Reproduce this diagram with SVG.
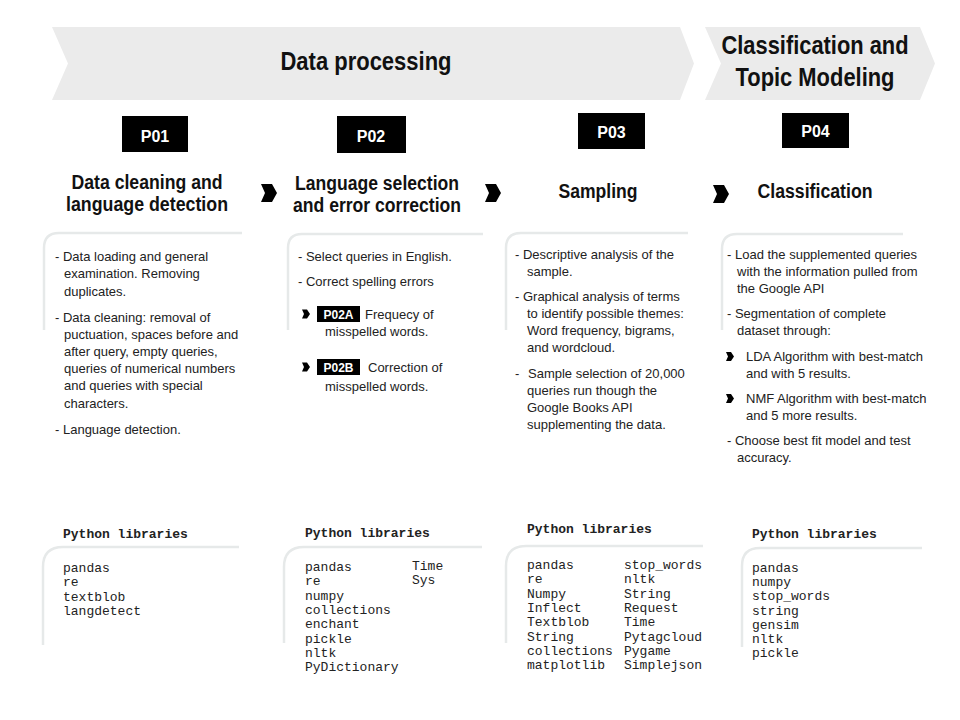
<svg xmlns="http://www.w3.org/2000/svg" width="960" height="720" viewBox="0 0 960 720">
<style>
.ban{fill:#ebebeb}
.bt{font-family:"Liberation Sans",Arial,sans-serif;font-weight:bold;font-size:26px;fill:#111;text-anchor:middle}
.pbox{fill:#000}
.pt{font-family:"Liberation Sans",Arial,sans-serif;font-weight:bold;font-size:16px;fill:#fff;text-anchor:middle}
.ht{font-family:"Liberation Sans",Arial,sans-serif;font-weight:bold;font-size:20px;fill:#111;text-anchor:middle}
.tx{font-family:"Liberation Sans",Arial,sans-serif;font-size:13px;fill:#222}
.br{fill:none;stroke:#e6e9e9;stroke-width:2.5}
.lh{font-family:"Liberation Mono","Courier New",monospace;font-weight:bold;font-size:13px;fill:#222}
.lt{font-family:"Liberation Mono","Courier New",monospace;font-size:13px;fill:#222}
.sb{fill:#000}
.st{font-family:"Liberation Sans",Arial,sans-serif;font-weight:bold;font-size:12px;fill:#fff;text-anchor:middle}
</style>
<defs>
<path id="chev" d="M0,0 L11,0 L16,9 L11,18 L0,18 L4,9 Z" fill="#000"/>
<path id="chevs" d="M0,0 L5,0 L8,4.5 L5,9 L0,9 L2,4.5 Z" fill="#000"/>
</defs>

<g id="banner-data-processing">
<polygon class="ban" points="52,27 680,27 694,63.5 680,100 52,100 68,63.5"/>
<text class="bt" x="366" y="70" textLength="171" lengthAdjust="spacingAndGlyphs">Data processing</text>
</g>
<g id="banner-classification">
<polygon class="ban" points="705,27 920,27 935,63.5 920,100 705,100 721,63.5"/>
<text class="bt" x="815" y="54" textLength="187" lengthAdjust="spacingAndGlyphs">Classification and</text>
<text class="bt" x="815" y="86" textLength="159" lengthAdjust="spacingAndGlyphs">Topic Modeling</text>
</g>

<g id="connectors">
<use href="#chev" x="261" y="184"/>
<use href="#chev" x="485" y="184"/>
<use href="#chev" x="713" y="185"/>
</g>

<g id="P01">
<rect class="pbox" x="122" y="116" width="66" height="36"/>
<text class="pt" x="155" y="142">P01</text>
<text class="ht" x="147" y="189" textLength="151" lengthAdjust="spacingAndGlyphs">Data cleaning and</text>
<text class="ht" x="147" y="211" textLength="162" lengthAdjust="spacingAndGlyphs">language detection</text>
<path class="br" d="M44,330 L44,248 Q44,233 59,233 L242,233"/>
<text class="tx" x="55" y="261">- Data loading and general</text>
<text class="tx" x="64" y="278">examination. Removing</text>
<text class="tx" x="64" y="296">duplicates.</text>
<text class="tx" x="55" y="322">- Data cleaning: removal of</text>
<text class="tx" x="64" y="339">puctuation, spaces before and</text>
<text class="tx" x="64" y="356">after query, empty queries,</text>
<text class="tx" x="64" y="373">queries of numerical numbers</text>
<text class="tx" x="64" y="390">and queries with special</text>
<text class="tx" x="64" y="408">characters.</text>
<text class="tx" x="55" y="434">- Language detection.</text>
<path class="br" d="M43,645 L43,567 Q43,547 63,547 L239,547"/>
<text class="lh" x="63" y="538">Python libraries</text>
<text class="lt" x="63" y="572">pandas</text>
<text class="lt" x="63" y="586.3">re</text>
<text class="lt" x="63" y="600.6">textblob</text>
<text class="lt" x="63" y="615">langdetect</text>
</g>

<g id="P02">
<rect class="pbox" x="337" y="116" width="69" height="37"/>
<text class="pt" x="371" y="142">P02</text>
<text class="ht" x="377" y="190" textLength="164" lengthAdjust="spacingAndGlyphs">Language selection</text>
<text class="ht" x="377" y="212" textLength="168" lengthAdjust="spacingAndGlyphs">and error correction</text>
<path class="br" d="M288,330 L288,248 Q288,234 302,234 L483,234"/>
<text class="tx" x="298" y="261">- Select queries in English.</text>
<text class="tx" x="298" y="286">- Correct spelling errors</text>
<use href="#chevs" x="302" y="309.5"/>
<rect class="sb" x="317" y="306" width="43" height="16"/>
<text class="st" x="338.5" y="318.5">P02A</text>
<text class="tx" x="365" y="319">Frequecy of</text>
<text class="tx" x="325" y="336">misspelled words.</text>
<use href="#chevs" x="302" y="362.5"/>
<rect class="sb" x="317" y="359" width="43" height="16"/>
<text class="st" x="338.5" y="371.5">P02B</text>
<text class="tx" x="368" y="372">Correction of</text>
<text class="tx" x="325" y="391">misspelled words.</text>
<path class="br" d="M284,643 L284,567 Q284,547 304,547 L482,547"/>
<text class="lh" x="305" y="537">Python libraries</text>
<text class="lt" x="305" y="571">pandas</text>
<text class="lt" x="305" y="585.3">re</text>
<text class="lt" x="305" y="599.6">numpy</text>
<text class="lt" x="305" y="613.9">collections</text>
<text class="lt" x="305" y="628.2">enchant</text>
<text class="lt" x="305" y="642.5">pickle</text>
<text class="lt" x="305" y="656.8">nltk</text>
<text class="lt" x="305" y="671.1">PyDictionary</text>
<text class="lt" x="412" y="569.5">Time</text>
<text class="lt" x="412" y="583.8">Sys</text>
</g>

<g id="P03">
<rect class="pbox" x="578" y="113" width="67" height="36"/>
<text class="pt" x="611.5" y="138">P03</text>
<text class="ht" x="598" y="198" textLength="79" lengthAdjust="spacingAndGlyphs">Sampling</text>
<path class="br" d="M506,330 L506,248 Q506,233 521,233 L688,233"/>
<text class="tx" x="515" y="259">- Descriptive analysis of the</text>
<text class="tx" x="527" y="276">sample.</text>
<text class="tx" x="515" y="301">- Graphical analysis of terms</text>
<text class="tx" x="527" y="318">to identify possible themes:</text>
<text class="tx" x="527" y="335">Word frequency, bigrams,</text>
<text class="tx" x="527" y="352">and wordcloud.</text>
<text class="tx" x="515" y="378">-</text>
<text class="tx" x="528" y="378">Sample selection of 20,000</text>
<text class="tx" x="527" y="395">queries run though the</text>
<text class="tx" x="527" y="412">Google Books API</text>
<text class="tx" x="527" y="429">supplementing the data.</text>
<path class="br" d="M506,643 L506,566 Q506,546 526,546 L703,546"/>
<text class="lh" x="527" y="533">Python libraries</text>
<text class="lt" x="527" y="569">pandas</text>
<text class="lt" x="527" y="583.3">re</text>
<text class="lt" x="527" y="597.6">Numpy</text>
<text class="lt" x="527" y="611.9">Inflect</text>
<text class="lt" x="527" y="626.2">Textblob</text>
<text class="lt" x="527" y="640.5">String</text>
<text class="lt" x="527" y="654.8">collections</text>
<text class="lt" x="527" y="669.1">matplotlib</text>
<text class="lt" x="624" y="569">stop_words</text>
<text class="lt" x="624" y="583.3">nltk</text>
<text class="lt" x="624" y="597.6">String</text>
<text class="lt" x="624" y="611.9">Request</text>
<text class="lt" x="624" y="626.2">Time</text>
<text class="lt" x="624" y="640.5">Pytagcloud</text>
<text class="lt" x="624" y="654.8">Pygame</text>
<text class="lt" x="624" y="669.1">Simplejson</text>
</g>

<g id="P04">
<rect class="pbox" x="782" y="113" width="67" height="35"/>
<text class="pt" x="815.5" y="137">P04</text>
<text class="ht" x="815" y="198" textLength="115" lengthAdjust="spacingAndGlyphs">Classification</text>
<path class="br" d="M722,330 L722,249 Q722,234 737,234 L903,234"/>
<text class="tx" x="727" y="259">- Load the supplemented queries</text>
<text class="tx" x="737" y="276">with the information pulled from</text>
<text class="tx" x="737" y="293">the Google API</text>
<text class="tx" x="727" y="318">- Segmentation of complete</text>
<text class="tx" x="737" y="335">dataset through:</text>
<use href="#chevs" x="726" y="352"/>
<text class="tx" x="746" y="361">LDA Algorithm with best-match</text>
<text class="tx" x="746" y="378">and with 5 results.</text>
<use href="#chevs" x="726" y="394"/>
<text class="tx" x="746" y="403">NMF Algorithm with best-match</text>
<text class="tx" x="746" y="420">and 5 more results.</text>
<text class="tx" x="727" y="445">- Choose best fit model and test</text>
<text class="tx" x="737" y="462">accuracy.</text>
<path class="br" d="M742,647 L742,566 Q742,548 760,548 L922,548"/>
<text class="lh" x="752" y="538">Python libraries</text>
<text class="lt" x="752" y="572">pandas</text>
<text class="lt" x="752" y="586.2">numpy</text>
<text class="lt" x="752" y="600.4">stop_words</text>
<text class="lt" x="752" y="614.6">string</text>
<text class="lt" x="752" y="628.8">gensim</text>
<text class="lt" x="752" y="643">nltk</text>
<text class="lt" x="752" y="657.2">pickle</text>
</g>
</svg>
